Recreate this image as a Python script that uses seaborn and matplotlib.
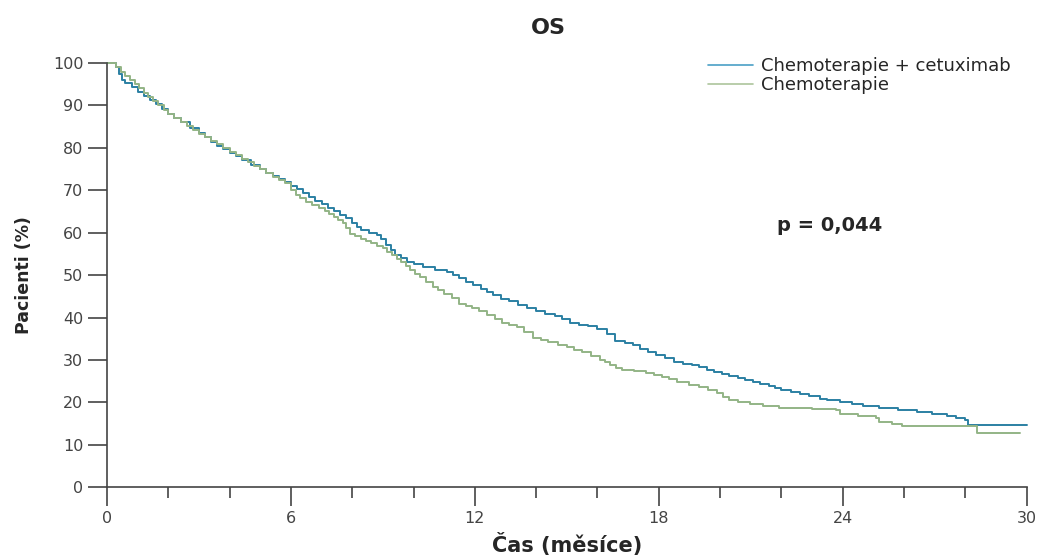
import matplotlib
matplotlib.use("Agg")
import matplotlib.pyplot as plt
from matplotlib.ticker import MultipleLocator
import pandas as pd
import seaborn as sns

# Kaplan-Meier overall survival estimates (months, % of patients)
cetux_time = [0, 0.3, 0.4, 0.5, 0.6, 0.8, 1.0, 1.2, 1.4, 1.6, 1.8, 2.0, 2.2, 2.4,
              2.7, 3.0, 3.2, 3.4, 3.6, 3.8, 4.0, 4.2, 4.4, 4.7, 5.0, 5.2, 5.4, 5.6,
              5.8, 6.0, 6.2, 6.4, 6.6, 6.8, 7.0, 7.2, 7.4, 7.6, 7.8, 8.0, 8.15, 8.3,
              8.55, 8.8, 8.95, 9.1, 9.25, 9.4, 9.6, 9.8, 10.0, 10.3, 10.7, 11.1,
              11.3, 11.5, 11.7, 11.95, 12.2, 12.4, 12.6, 12.85, 13.1, 13.4, 13.7,
              14.0, 14.3, 14.6, 14.85, 15.1, 15.4, 15.7, 16.0, 16.3, 16.56, 16.9,
              17.15, 17.4, 17.65, 17.9, 18.2, 18.5, 18.8, 19.1, 19.33, 19.56, 19.8,
              20.05, 20.3, 20.6, 20.8, 21.06, 21.3, 21.6, 21.8, 22.0, 22.3, 22.6,
              22.9, 23.25, 23.5, 23.9, 24.3, 24.65, 25.2, 25.8, 26.44, 26.9, 27.4,
              27.7, 28.0, 28.1, 30.0]
cetux_surv = [100, 99.1, 97.5, 96.0, 95.3, 94.3, 93.2, 92.2, 91.2, 90.3, 89.2, 88.0,
              87.0, 86.0, 84.6, 83.4, 82.5, 81.5, 80.5, 79.7, 78.9, 78.0, 77.2, 76.0,
              74.9, 74.0, 73.3, 72.6, 72.0, 71.0, 70.2, 69.3, 68.3, 67.5, 66.8, 65.8,
              65.0, 64.2, 63.4, 62.4, 61.3, 60.6, 60.0, 59.4, 58.4, 57.2, 56.0, 54.8,
              54.0, 53.2, 52.6, 51.9, 51.3, 50.8, 50.0, 49.2, 48.4, 47.6, 46.8, 46.0,
              45.3, 44.4, 43.8, 42.9, 42.2, 41.5, 40.9, 40.4, 39.6, 38.8, 38.3, 38.0,
              37.2, 36.0, 34.4, 33.9, 33.5, 32.6, 31.8, 31.1, 30.4, 29.6, 29.1, 28.7,
              28.3, 27.6, 27.2, 26.7, 26.2, 25.7, 25.2, 24.8, 24.3, 23.8, 23.3, 22.9,
              22.4, 21.9, 21.4, 20.9, 20.5, 20.1, 19.6, 19.1, 18.6, 18.2, 17.8, 17.3,
              16.7, 16.3, 15.8, 14.6, 14.6]

chemo_time = [0, 0.3, 0.45, 0.6, 0.75, 0.9, 1.05, 1.2, 1.35, 1.5, 1.65, 1.85, 2.0,
              2.2, 2.4, 2.6, 2.8, 3.0, 3.2, 3.4, 3.6, 3.8, 4.0, 4.2, 4.4, 4.6, 4.8,
              5.0, 5.2, 5.4, 5.6, 5.8, 6.0, 6.15, 6.3, 6.5, 6.7, 6.9, 7.1, 7.25, 7.4,
              7.55, 7.7, 7.8, 7.92, 8.1, 8.3, 8.45, 8.6, 8.8, 9.0, 9.15, 9.3, 9.45,
              9.6, 9.75, 9.88, 10.05, 10.2, 10.4, 10.63, 10.8, 11.0, 11.25, 11.5,
              11.7, 11.9, 12.15, 12.4, 12.65, 12.9, 13.1, 13.37, 13.6, 13.9, 14.15,
              14.4, 14.7, 15.0, 15.25, 15.5, 15.8, 16.07, 16.25, 16.4, 16.6, 16.8,
              17.2, 17.6, 17.85, 18.1, 18.35, 18.6, 19.0, 19.33, 19.6, 19.9, 20.1,
              20.3, 20.6, 20.97, 21.4, 21.94, 23.0, 23.8, 23.9, 24.5, 25.1, 25.2,
              25.6, 25.95, 28.37, 29.8]
chemo_surv = [100, 99.0, 98.0, 97.0, 96.0, 95.0, 94.0, 93.0, 92.0, 91.0, 90.0, 89.0,
              88.0, 87.1, 86.2, 85.2, 84.3, 83.3, 82.5, 81.7, 80.8, 80.0, 79.1, 78.3,
              77.4, 76.6, 75.7, 74.9, 74.0, 73.2, 72.4, 71.6, 70.0, 69.0, 68.1, 67.3,
              66.6, 65.8, 65.0, 64.4, 63.8, 63.0, 62.2, 61.0, 59.8, 59.2, 58.6, 58.0,
              57.5, 56.9, 56.3, 55.5, 54.8, 53.9, 53.0, 52.1, 51.2, 50.3, 49.5, 48.4,
              47.2, 46.4, 45.6, 44.5, 43.3, 42.8, 42.3, 41.5, 40.6, 39.7, 38.8, 38.3,
              37.8, 36.6, 35.1, 34.6, 34.2, 33.6, 33.1, 32.4, 31.8, 30.9, 30.0, 29.4,
              28.8, 28.2, 27.6, 27.3, 27.0, 26.5, 26.0, 25.4, 24.8, 24.2, 23.7, 23.0,
              22.2, 21.3, 20.5, 20.0, 19.6, 19.1, 18.6, 18.4, 18.2, 17.2, 16.8, 16.4,
              15.4, 14.9, 14.4, 12.7, 12.7]

arm_names = ["Chemoterapie + cetuximab", "Chemoterapie"]
arm_colors = ["#2b80a3", "#93b486"]
legend_colors = ["#4aa0c6", "#adc59c"]
x_major = [0, 6, 12, 18, 24, 30]
y_major = list(range(0, 101, 10))
p_text = "p = 0,044"

df = pd.concat([
    pd.DataFrame({"time": cetux_time, "surv": cetux_surv, "arm": arm_names[0]}),
    pd.DataFrame({"time": chemo_time, "surv": chemo_surv, "arm": arm_names[1]}),
], ignore_index=True)

sns.set_theme(style="ticks")
plt.rcParams["font.family"] = ["DejaVu Sans"]

fig = plt.figure(figsize=(10.39, 5.58), dpi=100)
ax = fig.add_axes([0.103, 0.127, 0.885, 0.76])

sns.lineplot(data=df, x="time", y="surv", hue="arm", hue_order=arm_names,
             palette=arm_colors, estimator=None, sort=False,
             drawstyle="steps-post", linewidth=1.4, ax=ax, clip_on=False)

ax.set_xlim(0, 30)
ax.set_ylim(0, 100)
ax.set_xticks(x_major)
ax.set_yticks(y_major)
ax.xaxis.set_minor_locator(MultipleLocator(2))
ax.tick_params(axis="both", which="major", direction="out", length=14, width=1.2,
               color="#444444", labelcolor="#444444", labelsize=11.5, pad=3)
ax.tick_params(axis="x", which="minor", direction="out", length=8, width=1.2,
               color="#444444")

sns.despine(ax=ax)
for side in ("left", "bottom"):
    ax.spines[side].set_color("#444444")
    ax.spines[side].set_linewidth(1.2)

ax.set_xlabel("Čas (měsíce)", fontsize=15, fontweight="bold", labelpad=5)
ax.set_ylabel("Pacienti (%)", fontsize=12.5, fontweight="bold", labelpad=14)
fig.text(0.528, 0.95, "OS", fontsize=16, fontweight="bold", ha="center", va="center")

ax.text(23.57, 61.8, p_text, fontsize=14, fontweight="bold", va="center", ha="center")

leg = ax.legend(loc="upper right", bbox_to_anchor=(1.0, 1.052), frameon=False,
                fontsize=13, handlelength=2.5, handletextpad=0.4,
                labelspacing=0.05, title=None)
for h, c in zip(leg.get_lines(), legend_colors):
    h.set_linewidth(1.2)
    h.set_color(c)

fig.savefig("out.png", dpi=100, facecolor="white")
